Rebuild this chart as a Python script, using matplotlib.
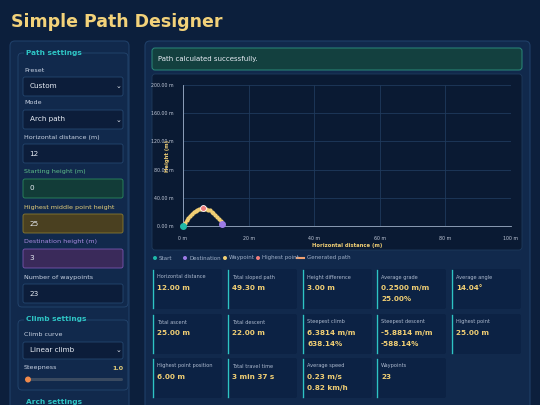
import matplotlib
matplotlib.use("Agg")
import matplotlib.pyplot as plt
from matplotlib.patches import FancyBboxPatch, Rectangle, Circle

# ---- data ----
x_way = [0.0, 0.545, 1.091, 1.636, 2.182, 2.727, 3.273, 3.818, 4.364, 4.909, 5.455, 6.0,
         6.545, 7.091, 7.636, 8.182, 8.727, 9.273, 9.818, 10.364, 10.909, 11.455, 12.0]
h_way = [0.0, 4.34, 8.26, 11.78, 14.88, 17.56, 19.83, 21.69, 23.14, 24.17, 24.79, 25.0,
         24.82, 24.27, 23.36, 22.09, 20.45, 18.45, 16.09, 13.36, 10.27, 6.82, 3.0]
start = (0, 0)
dest = (12, 3)
peak = (6, 25)
x_ticks = [0, 20, 40, 60, 80, 100]
y_ticks = [0, 40, 80, 120, 160, 200]
card_labels = [["Horizontal distance", "Total sloped path", "Height difference", "Average grade", "Average angle"],
               ["Total ascent", "Total descent", "Steepest climb", "Steepest descent", "Highest point"],
               ["Highest point position", "Total travel time", "Average speed", "Waypoints"]]
card_values = [["12.00 m", "49.30 m", "3.00 m", "0.2500 m/m\n25.00%", "14.04°"],
               ["25.00 m", "22.00 m", "6.3814 m/m\n638.14%", "-5.8814 m/m\n-588.14%", "25.00 m"],
               ["6.00 m", "3 min 37 s", "0.23 m/s\n0.82 km/h", "23"]]

W, H = 540, 405
fig = plt.figure(figsize=(5.4, 4.05), dpi=100, facecolor="#0c1f3c")
bg = fig.add_axes([0, 0, 1, 1])
bg.set_xlim(0, W); bg.set_ylim(H, 0); bg.axis("off")

def box(x, y, w, h, fc, ec, r=3, lw=0.8, z=1):
    bg.add_patch(FancyBboxPatch((x, y), w, h, boxstyle=f"round,pad=0,rounding_size={r}",
                                fc=fc, ec=ec, lw=lw, zorder=z))

def txt(x, y, s, size=5.5, color="#c9d3e3", weight="normal", ha="left", z=5):
    bg.text(x, y, s, fontsize=size, color=color, weight=weight, ha=ha, va="center", zorder=z)

txt(11, 22, "Simple Path Designer", 12.5, "#f3d27a", "bold")

# left panel
box(10, 41, 119, 380, "#11294c", "#1f3f68", r=5)
box(18, 53, 110, 254, "none", "#24466f", r=4, lw=0.6, z=2)
bg.add_patch(Rectangle((24, 49), 48, 8, fc="#11294c", ec="none", zorder=3))
txt(26, 53, "Path settings", 5.3, "#2ec4c4", "bold")
fields = [("Preset", 70, "Custom", True, "#0c1d3a", "#24466f", "#c9d3e3"),
          ("Mode", 103, "Arch path", True, "#0c1d3a", "#24466f", "#c9d3e3"),
          ("Horizontal distance (m)", 137, "12", False, "#0c1d3a", "#24466f", "#c9d3e3"),
          ("Starting height (m)", 172, "0", False, "#123c38", "#2a8a5e", "#5fc08a"),
          ("Highest middle point height", 207, "25", False, "#4a4020", "#8a7a30", "#e6cf7a"),
          ("Destination height (m)", 242, "3", False, "#3a2a5a", "#7a55b0", "#a98ae0"),
          ("Number of waypoints", 277, "23", False, "#0c1d3a", "#24466f", "#c9d3e3")]
for lab, y, val, sel, fc, ec, lc in fields:
    txt(24, y, lab, 4.6, lc)
    box(23, y + 7, 100, 19, fc, ec, r=2, lw=0.6, z=3)
    txt(30 if sel else 29, y + 16.5, val, 5.2, "#e8edf5")
    if sel:
        txt(121, y + 16.5, "⌄", 5, "#e8edf5", ha="right")

box(18, 320, 110, 70, "none", "#24466f", r=4, lw=0.6, z=2)
bg.add_patch(Rectangle((24, 315), 50, 8, fc="#11294c", ec="none", zorder=3))
txt(26, 319, "Climb settings", 5.3, "#2ec4c4", "bold")
txt(24, 335, "Climb curve", 4.6)
box(23, 342, 100, 17, "#0c1d3a", "#24466f", r=2, lw=0.6, z=3)
txt(30, 350.5, "Linear climb", 5.2, "#e8edf5")
txt(121, 350.5, "⌄", 5, "#e8edf5", ha="right")
txt(24, 368, "Steepness", 4.6)
txt(123, 368, "1.0", 4.6, "#e6cf7a", "bold", ha="right")
box(27, 378, 96, 3, "#3a4a60", "none", r=1.5, z=3)
bg.add_patch(Circle((28, 379.5), 3, fc="#f08a4b", ec="none", zorder=4))
bg.add_patch(Rectangle((24, 398), 48, 8, fc="#11294c", ec="none", zorder=3))
txt(26, 402, "Arch settings", 5.3, "#2ec4c4", "bold")

# right panel
box(145, 41, 385, 380, "#11294c", "#1f3f68", r=5)
box(152, 48, 370, 22, "#13403f", "#2a8a7a", r=3, lw=0.7, z=2)
txt(158, 59, "Path calculated successfully.", 5.0, "#e8edf5")
box(152, 74, 370, 176, "#0a1a33", "#1f3a5c", r=3, lw=0.6, z=2)

leg = [(155, "Start", "#1fb8a8", "o"), (185, "Destination", "#9c7be6", "o"),
       (225, "Waypoint", "#f1cf74", "o"), (258, "Highest point", "#f07d7d", "o"),
       (300, "Generated path", "#f0a070", "-")]
for x, lab, c, m in leg:
    if m == "o":
        bg.add_patch(Circle((x, 258), 2, fc=c, ec="none", zorder=4))
        txt(x + 4, 258, lab, 4.0, "#9fb0c8")
    else:
        bg.plot([x - 3, x + 4], [258, 258], color=c, lw=1.5, zorder=4)
        txt(x + 7, 258, lab, 4.0, "#9fb0c8")

xs = [152, 227, 302, 376, 451]
ys = [269, 314, 358]
for r, yy in enumerate(ys):
    for c, lab in enumerate(card_labels[r]):
        x = xs[c]
        box(x, yy, 70, 40, "#0c2244", "none", r=2, z=2)
        bg.plot([x + 0.5, x + 0.5], [yy + 1, yy + 39], color="#2ec4c4", lw=1, zorder=3)
        txt(x + 5, yy + 8, lab, 3.6, "#aebbd0")
        for i, line in enumerate(card_values[r][c].split("\n")):
            txt(x + 5, yy + 19 + 11 * i, line, 5.2, "#f1cf74", "bold")

# chart
ax = fig.add_axes([183 / W, 1 - 226 / H, (511 - 183) / W, (226 - 85) / H])
ax.set_facecolor("#0a1a33")
ax.set_xlim(0, 100); ax.set_ylim(0, 200)
ax.set_xticks(x_ticks); ax.set_yticks(y_ticks)
ax.set_xticklabels([f"{v} m" for v in x_ticks])
ax.set_yticklabels([f"{v:.2f} m" for v in y_ticks])
ax.tick_params(colors="#c0c8d8", labelsize=3.4, length=0, pad=7)
ax.grid(color="#1f3a5c", lw=0.6)
for s in ["top", "right"]:
    ax.spines[s].set_visible(False)
for s in ["left", "bottom"]:
    ax.spines[s].set_color("#9fb0c8"); ax.spines[s].set_linewidth(0.6)
ax.set_xlabel("Horizontal distance (m)", fontsize=3.8, color="#f1cf74", weight="bold", labelpad=2)
ax.set_ylabel("Height (m)", fontsize=3.8, color="#f1cf74", weight="bold", labelpad=-14)
ax.plot(x_way, h_way, color="#f0a070", lw=1.2, zorder=3, clip_on=False)
ax.scatter(x_way, h_way, s=4, color="#f1cf74", zorder=4, clip_on=False)
ax.scatter(*start, s=16, color="#1fb8a8", zorder=5, clip_on=False)
ax.scatter(*dest, s=16, color="#9c7be6", zorder=5, clip_on=False)
ax.scatter(*peak, s=18, color="#f07d7d", edgecolor="white", lw=0.6, zorder=5, clip_on=False)

fig.savefig("out.png", dpi=100, facecolor=fig.get_facecolor())
